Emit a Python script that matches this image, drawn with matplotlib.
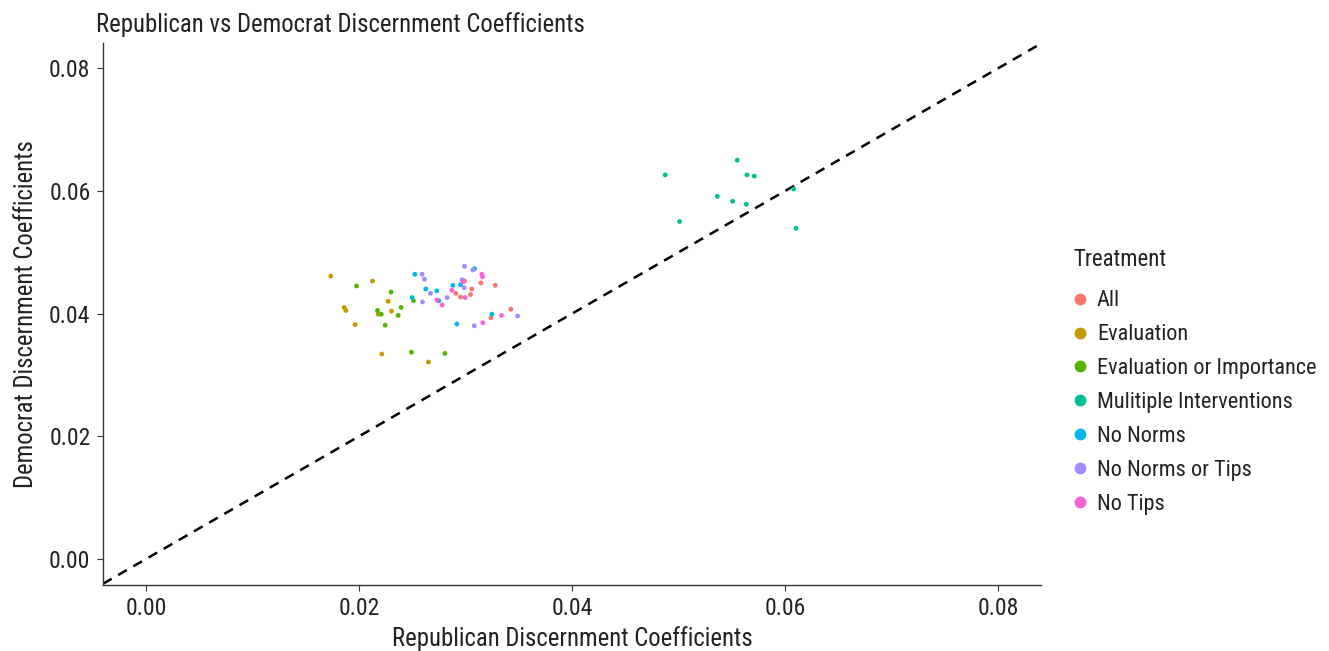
import matplotlib.pyplot as plt
from matplotlib.lines import Line2D

plt.rcParams['font.family'] = ['Roboto Condensed', 'Liberation Sans', 'DejaVu Sans']

treatments = ['All', 'Evaluation', 'Evaluation or Importance', 'Mulitiple Interventions',
              'No Norms', 'No Norms or Tips', 'No Tips']
colors = ['#F8766D', '#C49A00', '#53B400', '#00C094', '#00B6EB', '#A58AFF', '#FB61D7']

# republican (x) / democrat (y) coefficients per treatment
all_x = [0.02989, 0.03143, 0.03277, 0.03058, 0.02908, 0.02951, 0.03045, 0.03424, 0.03237]
all_y = [0.0453, 0.0450, 0.0446, 0.0440, 0.0433, 0.0427, 0.0431, 0.0407, 0.0393]
eval_x = [0.01734, 0.02125, 0.02272, 0.01859, 0.01875, 0.02178, 0.02304, 0.01962, 0.02213, 0.02651]
eval_y = [0.0461, 0.0453, 0.0420, 0.0410, 0.0405, 0.0399, 0.0404, 0.0382, 0.0334, 0.0321]
evimp_x = [0.01975, 0.0230, 0.0251, 0.02394, 0.02172, 0.02207, 0.02366, 0.02244, 0.02491, 0.02805]
evimp_y = [0.0445, 0.0435, 0.0421, 0.0410, 0.0405, 0.0399, 0.0397, 0.0381, 0.0337, 0.0335]
multi_x = [0.05549, 0.04873, 0.0564, 0.05709, 0.05362, 0.05505, 0.05634, 0.06078, 0.05008, 0.06101]
multi_y = [0.0650, 0.0626, 0.0626, 0.0624, 0.0591, 0.0583, 0.0578, 0.0603, 0.0550, 0.0539]
nonorm_x = [0.02523, 0.03083, 0.02626, 0.02729, 0.0288, 0.02951, 0.02498, 0.02748, 0.03246, 0.02917]
nonorm_y = [0.0464, 0.0473, 0.0440, 0.0437, 0.0446, 0.0447, 0.0426, 0.0421, 0.0399, 0.0383]
nonormtips_x = [0.02592, 0.02613, 0.02989, 0.03067, 0.0267, 0.02826, 0.02595, 0.02967, 0.0308, 0.03487, 0.02986]
nonormtips_y = [0.0464, 0.0456, 0.0477, 0.0471, 0.0433, 0.0426, 0.0419, 0.0455, 0.0380, 0.0396, 0.0442]
notips_x = [0.03152, 0.03158, 0.0287, 0.02977, 0.0273, 0.02779, 0.02995, 0.03336, 0.03161]
notips_y = [0.0464, 0.0460, 0.0438, 0.0452, 0.0422, 0.0414, 0.0426, 0.0397, 0.0385]

xs = [all_x, eval_x, evimp_x, multi_x, nonorm_x, nonormtips_x, notips_x]
ys = [all_y, eval_y, evimp_y, multi_y, nonorm_y, nonormtips_y, notips_y]

fig = plt.figure(figsize=(13.29, 6.51), dpi=100)
ax = fig.add_axes([0.0775, 0.1014, 0.7058, 0.8326])

## diagonal
ax.axline((0, 0), slope=1, color='black', linestyle=(0, (4, 3)), linewidth=1.8, zorder=1)

for i in range(len(treatments)):
    ax.scatter(xs[i], ys[i], s=12, color=colors[i], edgecolors='none', zorder=2)

ax.set_xlim(-0.00404, 0.0840)
ax.set_ylim(-0.00424, 0.0841)
ticks = [0.00, 0.02, 0.04, 0.06, 0.08]
ax.set_xticks(ticks)
ax.set_yticks(ticks)
ax.set_xticklabels(['%.2f' % t for t in ticks])
ax.set_yticklabels(['%.2f' % t for t in ticks])
ax.tick_params(labelsize=17, length=4, width=0.8, color='#333333', labelcolor='#222222', pad=5)
for s in ['top', 'right']:
    ax.spines[s].set_visible(False)
for s in ['left', 'bottom']:
    ax.spines[s].set_color('#333333')
    ax.spines[s].set_linewidth(1.0)

ax.set_xlabel('Republican Discernment Coefficients', fontsize=17.8, color='#222222', labelpad=4)
ax.set_ylabel('Democrat Discernment Coefficients', fontsize=17.8, color='#222222', labelpad=8)
ax.set_title('Republican vs Democrat Discernment Coefficients', fontsize=17.8, color='#222222',
             loc='left', x=-0.007, y=1.005)

## legend (title drawn separately for spacing)
fig.text(0.8074, 0.6007, 'Treatment', fontsize=16.5, color='#222222', ha='left', va='center')
handles = [Line2D([], [], marker='o', linestyle='none', markersize=7.5, color=c) for c in colors]
leg = fig.legend(handles, treatments, loc='upper left',
                 bbox_to_anchor=(0.7985, 0.5675), frameon=False, fontsize=16,
                 handletextpad=0.3, labelspacing=0.58,
                 handlelength=0.9, borderaxespad=0)
for t in leg.get_texts():
    t.set_color('#222222')

fig.savefig('out.png', dpi=100)
